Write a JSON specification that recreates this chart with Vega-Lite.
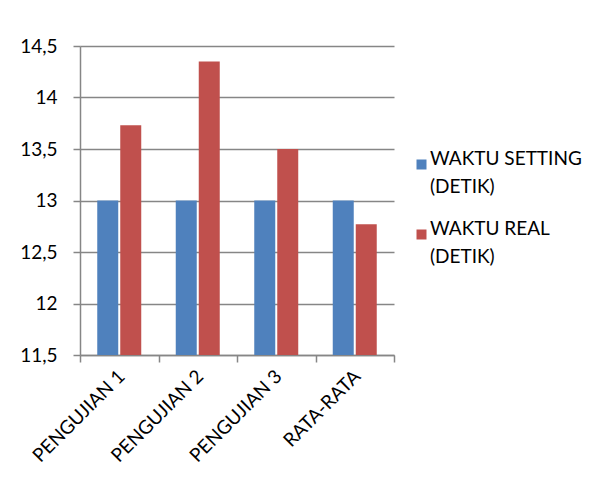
{
  "$schema": "https://vega.github.io/schema/vega-lite/v6.json",
  "width": 314,
  "height": 309,
  "autosize": "none",
  "padding": {"left": 80, "top": 46, "right": 217, "bottom": 123},
  "background": "white",
  "config": {
    "font": "Lato",
    "view": {"stroke": null},
    "style": {"guide-label": {"lineHeight": 28}}
  },
  "data": {
    "values": [
      {"kategori": "PENGUJIAN 1", "seri": "WAKTU SETTING (DETIK)", "nilai": 13},
      {"kategori": "PENGUJIAN 1", "seri": "WAKTU REAL (DETIK)", "nilai": 13.73},
      {"kategori": "PENGUJIAN 2", "seri": "WAKTU SETTING (DETIK)", "nilai": 13},
      {"kategori": "PENGUJIAN 2", "seri": "WAKTU REAL (DETIK)", "nilai": 14.35},
      {"kategori": "PENGUJIAN 3", "seri": "WAKTU SETTING (DETIK)", "nilai": 13},
      {"kategori": "PENGUJIAN 3", "seri": "WAKTU REAL (DETIK)", "nilai": 13.5},
      {"kategori": "RATA-RATA", "seri": "WAKTU SETTING (DETIK)", "nilai": 13},
      {"kategori": "RATA-RATA", "seri": "WAKTU REAL (DETIK)", "nilai": 12.77}
    ]
  },
  "mark": {"type": "bar", "clip": true},
  "encoding": {
    "x": {
      "field": "kategori",
      "type": "nominal",
      "sort": null,
      "title": null,
      "scale": {"paddingInner": 0, "paddingOuter": 0},
      "axis": {
        "tickBand": "extent",
        "labelAngle": -45,
        "labelAlign": "right",
        "labelBaseline": "middle",
        "labelFontSize": 19,
        "labelColor": "#000000",
        "labelPadding": 11,
        "labelOffset": 2,
        "tickSize": 7,
        "tickColor": "#868686",
        "tickWidth": 1.5,
        "domainColor": "#868686",
        "domainWidth": 1.5,
        "grid": false
      }
    },
    "xOffset": {
      "field": "seri",
      "type": "nominal",
      "sort": ["WAKTU SETTING (DETIK)", "WAKTU REAL (DETIK)"],
      "scale": {"paddingInner": 0.087, "paddingOuter": 0.75}
    },
    "y": {
      "field": "nilai",
      "type": "quantitative",
      "title": null,
      "scale": {"domain": [11.5, 14.5], "zero": false, "nice": false},
      "axis": {
        "values": [11.5, 12, 12.5, 13, 13.5, 14, 14.5],
        "labelExpr": "replace(toString(datum.value), '.', ',')",
        "labelFontSize": 19,
        "labelColor": "#000000",
        "labelPadding": 16,
        "tickSize": 7,
        "tickColor": "#868686",
        "tickWidth": 1.5,
        "domainColor": "#868686",
        "domainWidth": 1.5,
        "gridColor": "#868686",
        "gridWidth": 1.5
      }
    },
    "color": {
      "field": "seri",
      "type": "nominal",
      "sort": ["WAKTU SETTING (DETIK)", "WAKTU REAL (DETIK)"],
      "scale": {"range": ["#4F81BD", "#C0504D"]},
      "legend": {
        "title": null,
        "orient": "none",
        "legendX": 332,
        "legendY": 109,
        "padding": 0,
        "symbolType": "square",
        "symbolSize": 100,
        "symbolStrokeWidth": 0,
        "labelFontSize": 19,
        "labelColor": "#000000",
        "labelOffset": -1,
        "labelBaseline": "alphabetic",
        "rowPadding": 22,
        "labelExpr": "datum.label == 'WAKTU SETTING (DETIK)' ? ['WAKTU SETTING', '(DETIK)'] : ['WAKTU REAL', '(DETIK)']"
      }
    }
  }
}
